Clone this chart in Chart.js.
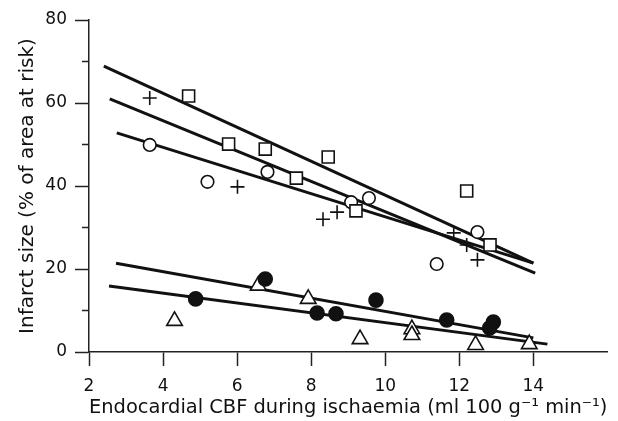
<!DOCTYPE html>
<html>
<head>
<meta charset="utf-8">
<script src="https://cdn.jsdelivr.net/npm/chart.js@4/dist/chart.umd.min.js"></script>
<style>
  html, body { margin: 0; padding: 0; background: #fff; }
</style>
</head>
<body>
<canvas id="infarctChart" width="618" height="421"></canvas>
<script>
// Données (x : CBF endocardique, y : taille d'infarctus en %)
const squareX = [4.69, 5.77, 6.76, 7.60, 8.46, 9.21, 12.2, 12.83];
const squareY = [61.7, 50.1, 48.9, 41.9, 47.0, 34.0, 38.8, 25.8];
const openCircleX = [3.64, 5.20, 6.82, 9.08, 9.56, 11.39, 12.49];
const openCircleY = [49.9, 41.0, 43.4, 36.1, 37.1, 21.2, 28.9];
const crossX = [3.64, 6.01, 8.32, 8.70, 11.85, 12.20, 12.49];
const crossY = [61.2, 39.8, 32.0, 33.7, 28.7, 25.8, 22.2];
const filledX = [4.88, 6.76, 8.16, 8.67, 9.75, 11.66, 12.92, 12.82];
const filledY = [12.8, 17.6, 9.4, 9.2, 12.5, 7.7, 7.2, 5.8];
const triangleX = [4.31, 6.57, 7.92, 9.32, 10.72, 10.72, 12.44, 13.89];
const triangleY = [7.5, 16.0, 12.8, 3.1, 5.5, 4.1, 1.7, 1.9];

// Droites de régression (extrémités)
const fitSquareX = [2.40, 14.0];
const fitSquareY = [68.9, 21.4];
const fitCrossX = [2.56, 14.05];
const fitCrossY = [61.0, 19.0];
const fitCircleX = [2.75, 14.0];
const fitCircleY = [52.8, 21.4];
const fitUpperLowX = [2.73, 14.0];
const fitUpperLowY = [21.4, 3.4];
const fitLowerLowX = [2.54, 14.38];
const fitLowerLowY = [15.9, 1.9];

const xTicks = [2, 4, 6, 8, 10, 12, 14];
const yTicks = [0, 20, 40, 60, 80];

const xTitle = 'Endocardial CBF during ischaemia (ml 100 g\u207B\u00B9 min\u207B\u00B9)';
const yTitle = 'Infarct size (% of area at risk)';

const FONT = 'DejaVu Sans';
const INK = '#111';

function toPoints(xs, ys) {
    return xs.map((x, i) => ({ x: x, y: ys[i] }));
}

function markerSet(xs, ys, style, radius, fill) {
    return {
        data: toPoints(xs, ys),
        showLine: false,
        pointStyle: style,
        pointRadius: radius,
        pointBackgroundColor: fill,
        pointBorderColor: INK,
        pointBorderWidth: 1.6,
        order: 1
    };
}

function fitLine(xs, ys) {
    return {
        data: toPoints(xs, ys),
        showLine: true,
        borderColor: INK,
        borderWidth: 3,
        pointRadius: 0,
        order: 2
    };
}

const ctx = document.getElementById('infarctChart');
new Chart(ctx, {
    type: 'scatter',
    data: {
        datasets: [
            fitLine(fitSquareX, fitSquareY),
            fitLine(fitCrossX, fitCrossY),
            fitLine(fitCircleX, fitCircleY),
            fitLine(fitUpperLowX, fitUpperLowY),
            fitLine(fitLowerLowX, fitLowerLowY),
            markerSet(squareX, squareY, 'rect', 8.5, '#fff'),
            markerSet(openCircleX, openCircleY, 'circle', 6.3, '#fff'),
            markerSet(crossX, crossY, 'cross', 7, '#fff'),
            markerSet(filledX, filledY, 'circle', 7, INK),
            markerSet(triangleX, triangleY, 'triangle', 9, '#fff')
        ]
    },
    options: {
        responsive: false,
        animation: false,
        layout: { padding: { top: 20, right: 9, left: 0, bottom: 0 } },
        plugins: {
            legend: { display: false },
            tooltip: { enabled: false }
        },
        scales: {
            x: {
                type: 'linear',
                min: 2,
                max: 16,
                afterFit: (scale) => { scale.height = 69; },
                ticks: {
                    stepSize: 2,
                    color: INK,
                    padding: 10,
                    maxRotation: 0,
                    font: { family: FONT, size: 17 },
                    callback: (v) => xTicks.includes(v) ? String(v) : ''
                },
                grid: {
                    drawOnChartArea: false,
                    tickLength: 14,
                    tickWidth: 1.5,
                    tickColor: (c) => xTicks.includes(c.tick.value) ? '#222' : 'rgba(0,0,0,0)'
                },
                border: { color: '#222', width: 1.5 },
                title: {
                    display: true,
                    text: xTitle,
                    color: INK,
                    font: { family: FONT, size: 20 },
                    padding: { top: 0, bottom: 1 }
                }
            },
            y: {
                type: 'linear',
                min: 0,
                max: 80,
                afterFit: (scale) => { scale.width = 89; },
                ticks: {
                    stepSize: 10,
                    color: INK,
                    padding: 8,
                    font: { family: FONT, size: 17 },
                    callback: (v) => yTicks.includes(v) ? String(v) : ''
                },
                grid: {
                    drawOnChartArea: false,
                    tickLength: 14,
                    tickWidth: 1.5,
                    tickColor: '#222',
                    // graduations intermédiaires plus courtes, collées à l'axe
                    tickBorderDash: (c) => yTicks.includes(c.tick.value) ? [] : [0, 7, 7, 100]
                },
                border: { color: '#222', width: 1.5 },
                title: {
                    display: true,
                    text: yTitle,
                    color: INK,
                    font: { family: FONT, size: 20 },
                    padding: { top: 16, bottom: 0 }
                }
            }
        }
    }
});
</script>
</body>
</html>
